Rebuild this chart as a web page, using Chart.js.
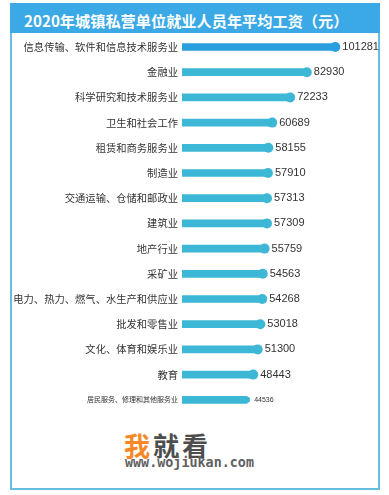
<!DOCTYPE html>
<html><head><meta charset="utf-8">
<script src="https://cdn.jsdelivr.net/npm/chart.js@4/dist/chart.umd.min.js"></script>
<style>
html,body{margin:0;padding:0;background:#fff;width:389px;height:495px;overflow:hidden;font-family:"Noto Sans CJK SC",sans-serif}
#frame{position:absolute;left:10px;top:3px;width:370px;height:487px;border:2px solid #68bedf;box-sizing:border-box}
#title{position:absolute;left:10px;top:3px;width:370px;height:30px;background:#3aa9e6;color:#fff;font-weight:bold;font-size:15.2px;line-height:30px;padding-left:14px;box-sizing:border-box;padding-top:2px;white-space:nowrap}
#chart{position:absolute;left:0;top:0}
#wm1{position:absolute;left:124px;top:426px;font-size:26px;font-weight:bold;color:#4d4d4d;letter-spacing:3px;white-space:nowrap}
#wm1 span{color:#f5892a}
#wm2{position:absolute;left:125px;top:455px;font-family:"DejaVu Sans Mono",monospace;font-size:13.4px;font-weight:bold;color:#606060;white-space:nowrap}
</style></head>
<body>
<div id="frame"></div>
<div id="title">2020年城镇私营单位就业人员年平均工资（元）</div>
<div id="wm1"><span>我</span>就看</div>
<div id="wm2">www.wojiukan.com</div>
<canvas id="chart" width="389" height="495"></canvas>
<script>
const categories = [
  "信息传输、软件和信息技术服务业","金融业","科学研究和技术服务业","卫生和社会工作",
  "租赁和商务服务业","制造业","交通运输、仓储和邮政业","建筑业","地产行业","采矿业",
  "电力、热力、燃气、水生产和供应业","批发和零售业","文化、体育和娱乐业","教育",
  "居民服务、修理和其他服务业"
];
const wages = [101281,82930,72233,60689,58155,57910,57313,57309,55759,54563,54268,53018,51300,48443,44536];
const barColors = wages.map((v,i)=> i===0 ? '#2a9fe0' : '#3db7d6');

const valueLabels = {
  id:'valueLabels',
  afterDatasetsDraw(chart){
    const ctx = chart.ctx;
    const meta = chart.getDatasetMeta(1);
    ctx.save();
    ctx.fillStyle = '#333';
    ctx.textBaseline = 'middle';
    ctx.textAlign = 'left';
    meta.data.forEach((pt,i)=>{
      ctx.font = (i===14 ? '7px' : '11px') + ' "Liberation Sans", Arial, sans-serif';
      ctx.fillText(String(wages[i]), pt.x + 7, pt.y);
    });
    ctx.restore();
  }
};

new Chart(document.getElementById('chart'), {
  data: {
    labels: categories,
    datasets: [
      {type:'bar', data: wages, backgroundColor: barColors, barThickness: 7, clip: 0, borderWidth: 0},
      {type:'line', indexAxis:'y', data: wages, showLine:false, pointRadius: wages.map((v,i)=> i===14 ? 3 : 5),
       pointBackgroundColor: barColors, pointBorderWidth: 0, pointHoverRadius: 5}
    ]
  },
  options: {
    indexAxis: 'y',
    responsive: false,
    animation: false,
    devicePixelRatio: 1,
    layout: {padding: {top: 34.4, bottom: 82.6, left: 0, right: 6}},
    plugins: {legend: {display:false}, tooltip: {enabled:false}},
    scales: {
      x: {display:false, min: 2600, max: 132000},
      y: {
        grid: {display:false, drawTicks:false},
        border: {display:false},
        ticks: {
          color: '#333',
          padding: 4,
          font: (c)=>({family:'"Noto Sans CJK SC", sans-serif', size: c.index===14 ? 7 : 10.3})
        },
        afterFit(scale){ scale.width = 182; }
      }
    }
  },
  plugins: [valueLabels]
});
</script>
</body></html>
